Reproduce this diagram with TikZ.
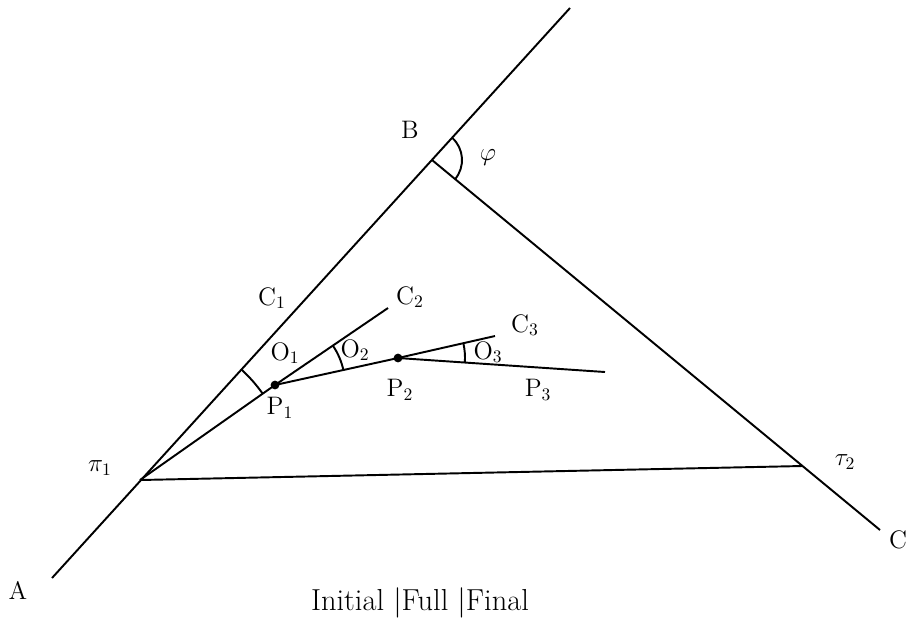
\documentclass[tikz,border=0pt]{standalone}
\usepackage{tikz}
\usetikzlibrary{angles,calc}
\tikzset{
  ray/.style={line width=1.1pt, black},
  lbl/.style={font=\Large, inner sep=1pt},
  dot/.style={circle, fill=black, inner sep=0pt, minimum size=5pt},
  arc/.style={draw, line width=1.1pt},
}

\begin{document}
\begin{tikzpicture}[x=0.2mm, y=-0.2mm]
  \useasboundingbox (0,0) rectangle (911,638);

  % Main lines
  \coordinate (A)    at (52,578);
  \coordinate (Atop) at (570,8);
  \coordinate (B)    at (432,160);
  \coordinate (C)    at (880,530);
  \coordinate (T1)   at (140,480);
  \coordinate (T2)   at (802,466);

  % Path points
  \node[dot] (P1) at (275,385) {};
  \node[dot] (P2) at (398,358) {};
  \coordinate (P3) at (605,372);
  \coordinate (C2) at (388,308);
  \coordinate (C3) at (495,336);

  \draw[ray] (A) -- (Atop);
  \draw[ray] (B) -- (C);
  \draw[ray] (T1) -- (T2);
  \draw[ray] (T1) -- (P1.center) -- (P2.center) -- (P3);
  \draw[ray] (P1.center) -- (C2);
  \draw[ray] (P2.center) -- (C3);

  % Angles
  \pic[arc, angle radius=3cm] {angle = P1--T1--B};
  \pic[arc, angle radius=1.4cm] {angle = P2--P1--C2};
  \pic[arc, angle radius=1.34cm] {angle = P3--P2--C3};
  \pic[arc, angle radius=0.6cm] {angle = C--B--Atop};

  % Labels
  \node[lbl] (lA)  at (18,590)  {A};
  \node[lbl] (lB)  at (410,130) {B};
  \node[lbl] (lC)  at (898,540) {C};
  \node[lbl] (lphi) at (488,158) {$\varphi$};
  \node[lbl] (lT1) at (100,468) {$\pi_1$};
  \node[lbl] (lT2) at (845,462) {$\tau_2$};
  \node[lbl] (lC1) at (272,298) {C$_1$};
  \node[lbl] (lC2) at (410,297) {C$_2$};
  \node[lbl] (lC3) at (525,325) {C$_3$};
  \node[lbl] (lO1) at (285,353) {O$_1$};
  \node[lbl] (lO2) at (355,350) {O$_2$};
  \node[lbl] (lO3) at (488,352) {O$_3$};
  \node[lbl] (lP1) at (280,408) {P$_1$};
  \node[lbl] (lP2) at (400,390) {P$_2$};
  \node[lbl] (lP3) at (538,390) {P$_3$};

  % Caption
  \node[font=\LARGE] (cap) at (420,603) {Initial \textbar Full \textbar Final};
\end{tikzpicture}
\end{document}
